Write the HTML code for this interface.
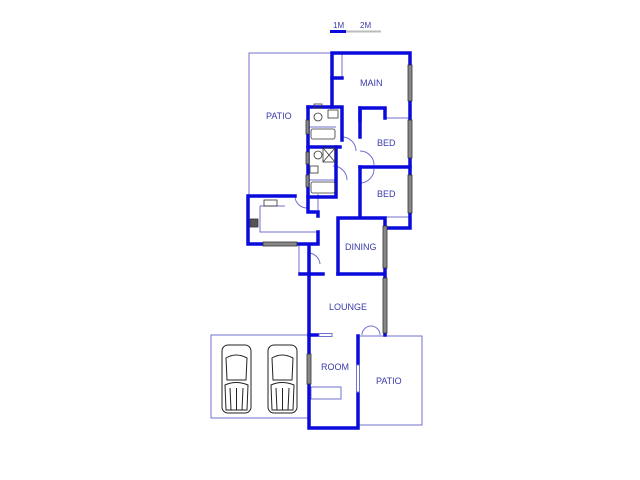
<!DOCTYPE html>
<html><head><meta charset="utf-8"><style>
html,body{margin:0;padding:0;background:#fff;width:640px;height:480px;overflow:hidden}
svg{display:block}
text{font-family:"Liberation Sans",sans-serif;font-size:9px;fill:#3a3aa8}
</style></head><body>
<svg width="640" height="480" viewBox="0 0 640 480" xmlns="http://www.w3.org/2000/svg">
<!-- scale bar -->
<text x="333" y="28" style="font-size:8px">1M</text>
<text x="360" y="28" style="font-size:8px">2M</text>
<line x1="330" y1="31.5" x2="346" y2="31.5" stroke="#0a0adc" stroke-width="3"/>
<line x1="346" y1="31.5" x2="381" y2="31.5" stroke="#bbb" stroke-width="2"/>

<!-- thin lines -->
<g stroke="#7070d0" stroke-width="1" fill="none">
<polyline points="331,53 249,53 249,196"/>
<polyline points="342,53 342,78"/>
<polyline points="385,118 410,118"/>
<polyline points="385,217 410,217"/>
<polyline points="260,206 285,206"/>
<polyline points="260,206 260,232 318,232"/>
<polyline points="318,194 318,210"/>
<polyline points="299,244 299,274"/>
<polyline points="308,335 211,335 211,418 308,418"/>
<polyline points="358,336 422,336 422,425 358,425"/>
<rect x="311" y="387" width="30" height="12"/>
<path d="M295,196 A12,12 0 0 0 307,208"/>
<path d="M309,253 A12,12 0 0 1 320,264"/>
<path d="M342,137 A14,14 0 0 1 356,151"/>
<path d="M360,151 A14,14 0 0 1 374,165"/>
<path d="M360,183 A14,14 0 0 0 374,169"/>
<path d="M333,166 A14,14 0 0 1 347,180"/>
<path d="M362,335 A9,9 0 0 1 371,326 M380,335 A9,9 0 0 0 371,326"/>
<line x1="308" y1="127" x2="336" y2="127"/>
<line x1="308" y1="180" x2="336" y2="180"/>
</g>

<!-- thick walls -->
<g stroke="#0a0adc" stroke-width="3.5" fill="none" stroke-linecap="square">
<polyline points="332,107 332,53 410,53 410,228 385,228"/>
<polyline points="332,78 342,78"/>
<polyline points="360,137 360,108 385,108 385,118"/>
<polyline points="360,167 410,167"/>
<polyline points="360,167 360,217"/>
<polyline points="360,108 360,120"/>
<polyline points="338,274 338,218 385,218 385,335"/>
<polyline points="338,274 384,274"/>
<polyline points="308,107 342,107 342,140"/>
<polyline points="308,107 308,212 318,212 318,216"/>
<polyline points="308,147 340,147"/>
<polyline points="336,147 336,197 308,197"/>
<polyline points="295,196 248,196 248,244 318,244 318,232"/>
<polyline points="309,246 309,428 358,428 358,336"/>
<polyline points="300,274 323,274"/>
<polyline points="309,335 319,335 M332,335 340,335 M353,335 360,335 M381,335 384,335"/>
</g>

<!-- windows -->
<g fill="#888" stroke="#333" stroke-width="0.8">
<rect x="408" y="65" width="4" height="36"/>
<rect x="408" y="120" width="4" height="38"/>
<rect x="408" y="175" width="4" height="38"/>
<rect x="383" y="226" width="4" height="42"/>
<rect x="383" y="278" width="4" height="55"/>
<rect x="263" y="242" width="34" height="4"/>
<rect x="307" y="354" width="4" height="30"/>
<rect x="306" y="120" width="3" height="14"/>
<rect x="306" y="152" width="3" height="12"/>
<rect x="306" y="175" width="3" height="12"/>
</g>
<g fill="#fff" stroke="#7070d0" stroke-width="1">
<rect x="319" y="333.5" width="13" height="3"/>
<rect x="356.5" y="365" width="3" height="27"/>
</g>

<!-- fixtures -->
<g fill="none" stroke="#333" stroke-width="0.8">
<ellipse cx="318" cy="117" rx="4" ry="4"/>
<rect x="314" y="104" width="8" height="4"/>
<rect x="328" y="110" width="10" height="8"/>
<rect x="311" y="129" width="24" height="10" rx="2"/>
<ellipse cx="318" cy="155" rx="4" ry="4"/>
<rect x="323" y="148" width="12" height="14"/>
<line x1="323" y1="148" x2="335" y2="162"/><line x1="335" y1="148" x2="323" y2="162"/>
<rect x="310" y="166" width="8" height="7"/>
<rect x="311" y="182" width="24" height="11" rx="2"/>
<rect x="264" y="200" width="13" height="6"/>
<rect x="250" y="219" width="8" height="8" fill="#555"/>
</g>

<!-- cars -->
<g fill="#fff" stroke="#222" stroke-width="1">
<g id="car">
<rect x="222" y="345" width="29" height="68" rx="6"/>
<path d="M226,358 Q236,352 247,358 L246,380 L227,380 Z"/>
<path d="M225,385 Q236,380 248,385 L247,410 L226,410 Z"/>
<line x1="230" y1="388" x2="231" y2="410"/><line x1="236.5" y1="388" x2="236.5" y2="410"/><line x1="243" y1="388" x2="242" y2="410"/>
</g>
<use href="#car" x="46"/>
</g>

<!-- labels -->
<text x="360" y="86">MAIN</text>
<text x="266" y="119">PATIO</text>
<text x="377" y="146">BED</text>
<text x="377" y="197">BED</text>
<text x="345" y="250">DINING</text>
<text x="329" y="310">LOUNGE</text>
<text x="321" y="370">ROOM</text>
<text x="376" y="384">PATIO</text>
</svg>
</body></html>
